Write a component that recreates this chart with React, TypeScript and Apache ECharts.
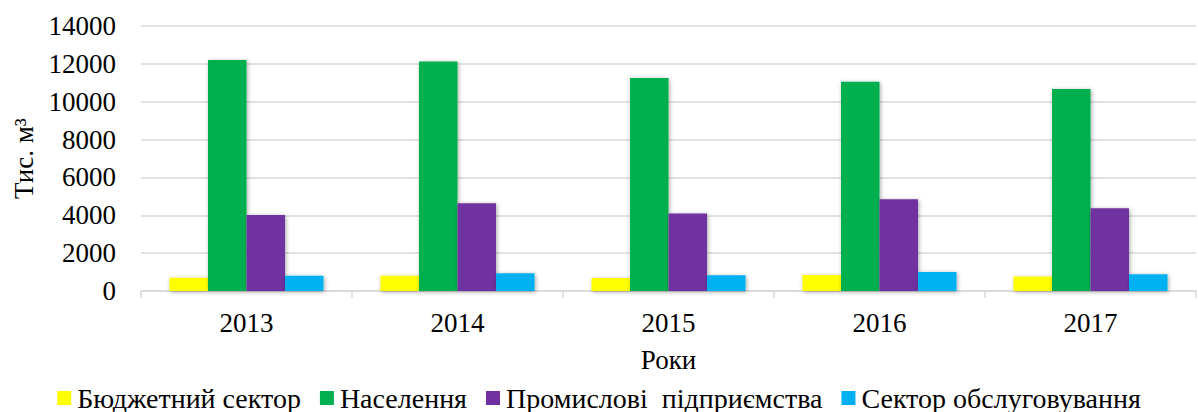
import React, { useEffect, useRef } from "react";
import * as echarts from "echarts";

const years = ["2013", "2014", "2015", "2016", "2017"];
const budgetSector = [700, 800, 690, 850, 760];
const population = [12200, 12130, 11250, 11060, 10670];
const industry = [4020, 4640, 4090, 4850, 4370];
const serviceSector = [800, 940, 830, 1010, 890];

const seriesNames = [
  "Бюджетний сектор",
  "Населення",
  "Промислові  підприємства",
  "Сектор обслуговування",
];
const colors = ["#FFFF00", "#00B050", "#7030A0", "#00B0F0"];

const FONT = "'Liberation Serif', 'Times New Roman', serif";

export default function App() {
  const ref = useRef<HTMLDivElement>(null);
  useEffect(() => {
    if (!ref.current) return;
    const chart = echarts.init(ref.current, null, { renderer: "svg" });
    const dataSets = [budgetSector, population, industry, serviceSector];
    chart.setOption({
      animation: false,
      color: colors,
      grid: { left: 141, right: 2, top: 26, bottom: 121, containLabel: false },
      legend: {
        top: 384,
        left: "center",
        padding: 0,
        itemWidth: 14,
        itemHeight: 14,
        itemGap: 19,
        icon: "rect",
        textStyle: { fontFamily: FONT, fontSize: 28, color: "#000", padding: [0, 0, 0, 1] },
        data: seriesNames,
      },
      xAxis: {
        type: "category",
        data: years,
        name: "Роки",
        nameLocation: "middle",
        nameGap: 55,
        nameTextStyle: { fontFamily: FONT, fontSize: 27, color: "#000" },
        axisLine: { lineStyle: { color: "#d9d9d9", width: 1.5 } },
        axisTick: { show: true, length: 7, lineStyle: { color: "#d9d9d9", width: 1.5 } },
        axisLabel: { fontFamily: FONT, fontSize: 27, color: "#000", margin: 18 },
      },
      yAxis: {
        type: "value",
        min: 0,
        max: 14000,
        interval: 2000,
        name: "Тис. м³",
        nameLocation: "middle",
        nameGap: 102,
        nameRotate: 90,
        nameTextStyle: { fontFamily: FONT, fontSize: 27, color: "#000" },
        axisLine: { show: false },
        axisTick: { show: false },
        splitLine: { lineStyle: { color: "#d9d9d9", width: 1.5 } },
        axisLabel: {
          fontFamily: FONT,
          fontSize: 27,
          color: "#000",
          margin: 25,
          formatter: (v: number) => String(v),
        },
      },
      series: seriesNames.map((name, i) => ({
        name,
        type: "bar",
        data: dataSets[i],
        barGap: "0%",
        barCategoryGap: "27%",
        itemStyle: {
          color: colors[i],
          shadowBlur: 4,
          shadowColor: "rgba(0,0,0,0.35)",
          shadowOffsetX: 1,
          shadowOffsetY: 1,
        },
      })),
    });
    return () => chart.dispose();
  }, []);
  return (
    <div
      ref={ref}
      style={{ position: "fixed", left: 0, top: 0, width: 1198, height: 412, background: "#fff" }}
    />
  );
}
